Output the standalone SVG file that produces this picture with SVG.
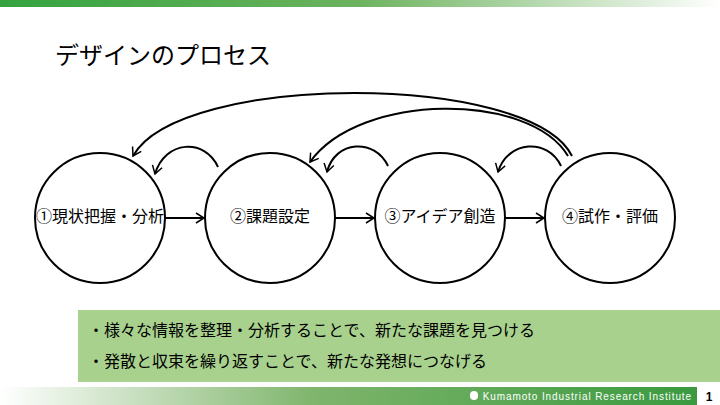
<svg xmlns="http://www.w3.org/2000/svg" width="720" height="405" viewBox="0 0 720 405">
<defs>
<linearGradient id="gt" x1="0" x2="1"><stop offset="0" stop-color="#33a33f"/><stop offset="0.5" stop-color="#6db35f"/><stop offset="1" stop-color="#ffffff"/></linearGradient>
<linearGradient id="gb" x1="0" x2="1"><stop offset="0" stop-color="#ffffff"/><stop offset="0.45" stop-color="#7fb56c"/><stop offset="1" stop-color="#3a9a40"/></linearGradient>
<marker id="ah" markerWidth="12" markerHeight="12" refX="10" refY="6" orient="auto" markerUnits="userSpaceOnUse"><path d="M2,1 L10,6 L2,11" fill="none" stroke="#000" stroke-width="1.5"/></marker>
<style>
.c{fill:#fff;stroke:#000;stroke-width:2}
.t{font-family:"Noto Sans CJK JP","Noto Sans",sans-serif;font-size:16px;text-anchor:middle;dominant-baseline:middle}
.l{fill:none;stroke:#000;stroke-width:2;marker-end:url(#ah)}
.b{font-family:"Noto Sans CJK JP",sans-serif;font-size:16px}
</style>
</defs>
<rect width="720" height="405" fill="#fff"/>
<rect x="0" y="0" width="720" height="7" fill="url(#gt)"/>
<text x="55" y="64" font-family="Noto Sans CJK JP,sans-serif" font-size="24">デザインのプロセス</text>
<g id="connectors">
<line class="l" x1="165" y1="218" x2="204" y2="218"/>
<line class="l" x1="335" y1="218" x2="374" y2="218"/>
<line class="l" x1="505" y1="218" x2="544" y2="218"/>
<path class="l" d="M218,167 C205,138 165,140 155,174"/>
<path class="l" d="M388,166 C375,138 335,140 327,172"/>
<path class="l" d="M561,166 C548,138 508,140 498,172"/>
<path class="l" d="M572,156 C530,72 180,72 133,156"/>
<path class="l" d="M568,156 C530,92 360,92 310,162"/>
</g>
<g id="n1"><circle class="c" cx="100" cy="218" r="65"/><text class="t" x="100" y="218">①現状把握・分析</text></g>
<g id="n2"><circle class="c" cx="270" cy="218" r="65"/><text class="t" x="270" y="218">②課題設定</text></g>
<g id="n3"><circle class="c" cx="440" cy="218" r="65"/><text class="t" x="440" y="218">③アイデア創造</text></g>
<g id="n4"><circle class="c" cx="610" cy="218" r="65"/><text class="t" x="610" y="218">④試作・評価</text></g>
<rect x="78" y="310" width="642" height="72" fill="#a9d18e"/>
<text class="b" x="88" y="336">・様々な情報を整理・分析することで、新たな課題を見つける</text>
<text class="b" x="88" y="367">・発散と収束を繰り返すことで、新たな発想につなげる</text>
<rect x="0" y="387" width="697" height="18" fill="url(#gb)"/>
<rect x="470" y="391" width="8" height="9" rx="4" fill="#fff"/>
<text x="692" y="400" text-anchor="end" font-family="Liberation Sans Narrow,Liberation Sans,sans-serif" font-size="10" letter-spacing="0.9" fill="#fff">Kumamoto Industrial Research Institute</text>
<text x="709" y="401" text-anchor="middle" font-family="Liberation Sans,sans-serif" font-size="12" font-weight="bold">1</text>
</svg>
